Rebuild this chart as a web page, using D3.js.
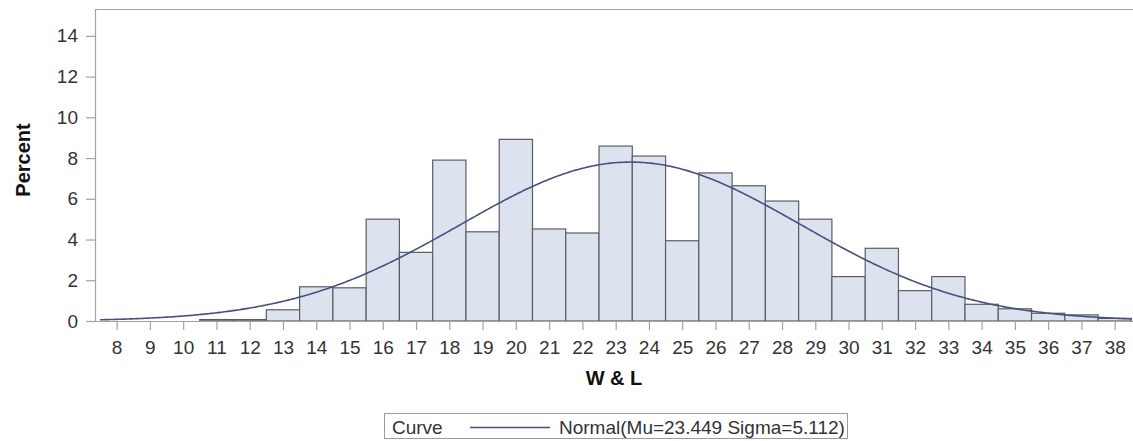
<!DOCTYPE html>
<html>
<head>
<meta charset="utf-8">
<script src="https://cdn.jsdelivr.net/npm/d3@7"></script>
<style>
  html, body { margin: 0; padding: 0; background: #fff; }
  svg { display: block; font-family: Arial, "Liberation Sans", sans-serif; }
</style>
</head>
<body>
<svg id="chart" width="1133" height="441"></svg>
<script>
// ---- data ----
const binCenters = [11, 12, 13, 14, 15, 16, 17, 18, 19, 20, 21, 22, 23, 24, 25, 26, 27, 28, 29, 30, 31, 32, 33, 34, 35, 36, 37, 38];
const percents   = [0.07, 0.07, 0.55, 1.68, 1.63, 5.0, 3.37, 7.9, 4.38, 8.92, 4.52, 4.32, 8.59, 8.1, 3.94, 7.27, 6.64, 5.89, 5.0, 2.18, 3.57, 1.49, 2.18, 0.82, 0.6, 0.38, 0.3, 0.13];
const binWidth = 1;
const xTicks = [8,9,10,11,12,13,14,15,16,17,18,19,20,21,22,23,24,25,26,27,28,29,30,31,32,33,34,35,36,37,38];
const yTicks = [0, 2, 4, 6, 8, 10, 12, 14];
const normalMu = 23.449;
const normalSigma = 5.112;
const curveRange = [7.5, 38.5];
const xLabel = "W & L";
const yLabel = "Percent";
const legendTitle = "Curve";
const legendEntry = "Normal(Mu=23.449 Sigma=5.112)";

// ---- layout ----
const svg = d3.select("#chart");
const pLeft = 95, pRight = 1133, pTop = 9, pBottom = 321;
const x = d3.scaleLinear().domain([7.35, 38.55]).range([pLeft, pRight]);
const y = d3.scaleLinear().domain([0, 15.32]).range([pBottom, pTop]);

const frameColor = "#a3a3a3";
const textColor = "#333333";

// bars
svg.append("g").selectAll("rect").data(binCenters).join("rect")
  .attr("x", (d) => x(d - binWidth / 2))
  .attr("width", (d) => x(d + binWidth / 2) - x(d - binWidth / 2))
  .attr("y", (d, i) => y(percents[i]))
  .attr("height", (d, i) => y(0) - y(percents[i]))
  .attr("fill", "#dde3ee")
  .attr("stroke", "#5c5c66")
  .attr("stroke-width", 1.2);

// normal curve from fitted parameters
const curveX = d3.range(curveRange[0], curveRange[1] + 0.0001, 0.05);
const dens = (v) => 100 * binWidth / (normalSigma * Math.sqrt(2 * Math.PI)) * Math.exp(-0.5 * Math.pow((v - normalMu) / normalSigma, 2));
svg.append("path")
  .datum(curveX)
  .attr("fill", "none")
  .attr("stroke", "#47517f")
  .attr("stroke-width", 1.6)
  .attr("d", d3.line().x((d) => x(d)).y((d) => y(dens(d))));

// frame top
svg.append("line").attr("x1", pLeft).attr("x2", pRight).attr("y1", pTop + 0.5).attr("y2", pTop + 0.5)
  .attr("stroke", frameColor).attr("stroke-width", 1.2);

// axes
const xAxis = d3.axisBottom(x).tickValues(xTicks).tickSize(9).tickPadding(11).tickFormat(d3.format("d"));
const gx = svg.append("g").attr("transform", `translate(0,${pBottom})`).call(xAxis);
gx.select(".domain").attr("stroke", frameColor).attr("stroke-width", 1.2)
  .attr("d", `M${pLeft},0.5H${pRight}`);
gx.selectAll(".tick line").attr("stroke", frameColor).attr("stroke-width", 1.2);
gx.selectAll(".tick text").attr("fill", textColor).style("font-size", "19px").style("font-family", "Arial, 'Liberation Sans', sans-serif");

const yAxis = d3.axisLeft(y).tickValues(yTicks).tickSize(9).tickPadding(8).tickFormat(d3.format("d"));
const gy = svg.append("g").attr("transform", `translate(${pLeft},0)`).call(yAxis);
gy.select(".domain").attr("stroke", frameColor).attr("stroke-width", 1.2)
  .attr("d", `M0.5,${pTop}V${pBottom}`);
gy.selectAll(".tick line").attr("stroke", frameColor).attr("stroke-width", 1.2);
gy.selectAll(".tick text").attr("fill", textColor).style("font-size", "19px").style("font-family", "Arial, 'Liberation Sans', sans-serif");

// axis labels
svg.append("text")
  .attr("x", (pLeft + pRight) / 2).attr("y", 385)
  .attr("text-anchor", "middle")
  .attr("fill", "#111")
  .style("font-size", "20px").style("font-weight", "bold")
  .text(xLabel);

svg.append("text")
  .attr("transform", `translate(30,160) rotate(-90)`)
  .attr("text-anchor", "middle")
  .attr("fill", "#111")
  .style("font-size", "20px").style("font-weight", "bold")
  .text(yLabel);

// legend
const lg = svg.append("g");
lg.append("rect").attr("x", 384.5).attr("y", 413.5).attr("width", 463).attr("height", 25)
  .attr("fill", "none").attr("stroke", "#9a9a9a").attr("stroke-width", 1);
lg.append("text").attr("x", 392).attr("y", 434).attr("fill", textColor)
  .style("font-size", "19px").text(legendTitle);
lg.append("line").attr("x1", 470).attr("x2", 550).attr("y1", 427.5).attr("y2", 427.5)
  .attr("stroke", "#47517f").attr("stroke-width", 1.6);
lg.append("text").attr("x", 559).attr("y", 434).attr("fill", textColor)
  .style("font-size", "19px").text(legendEntry);
</script>
</body>
</html>
